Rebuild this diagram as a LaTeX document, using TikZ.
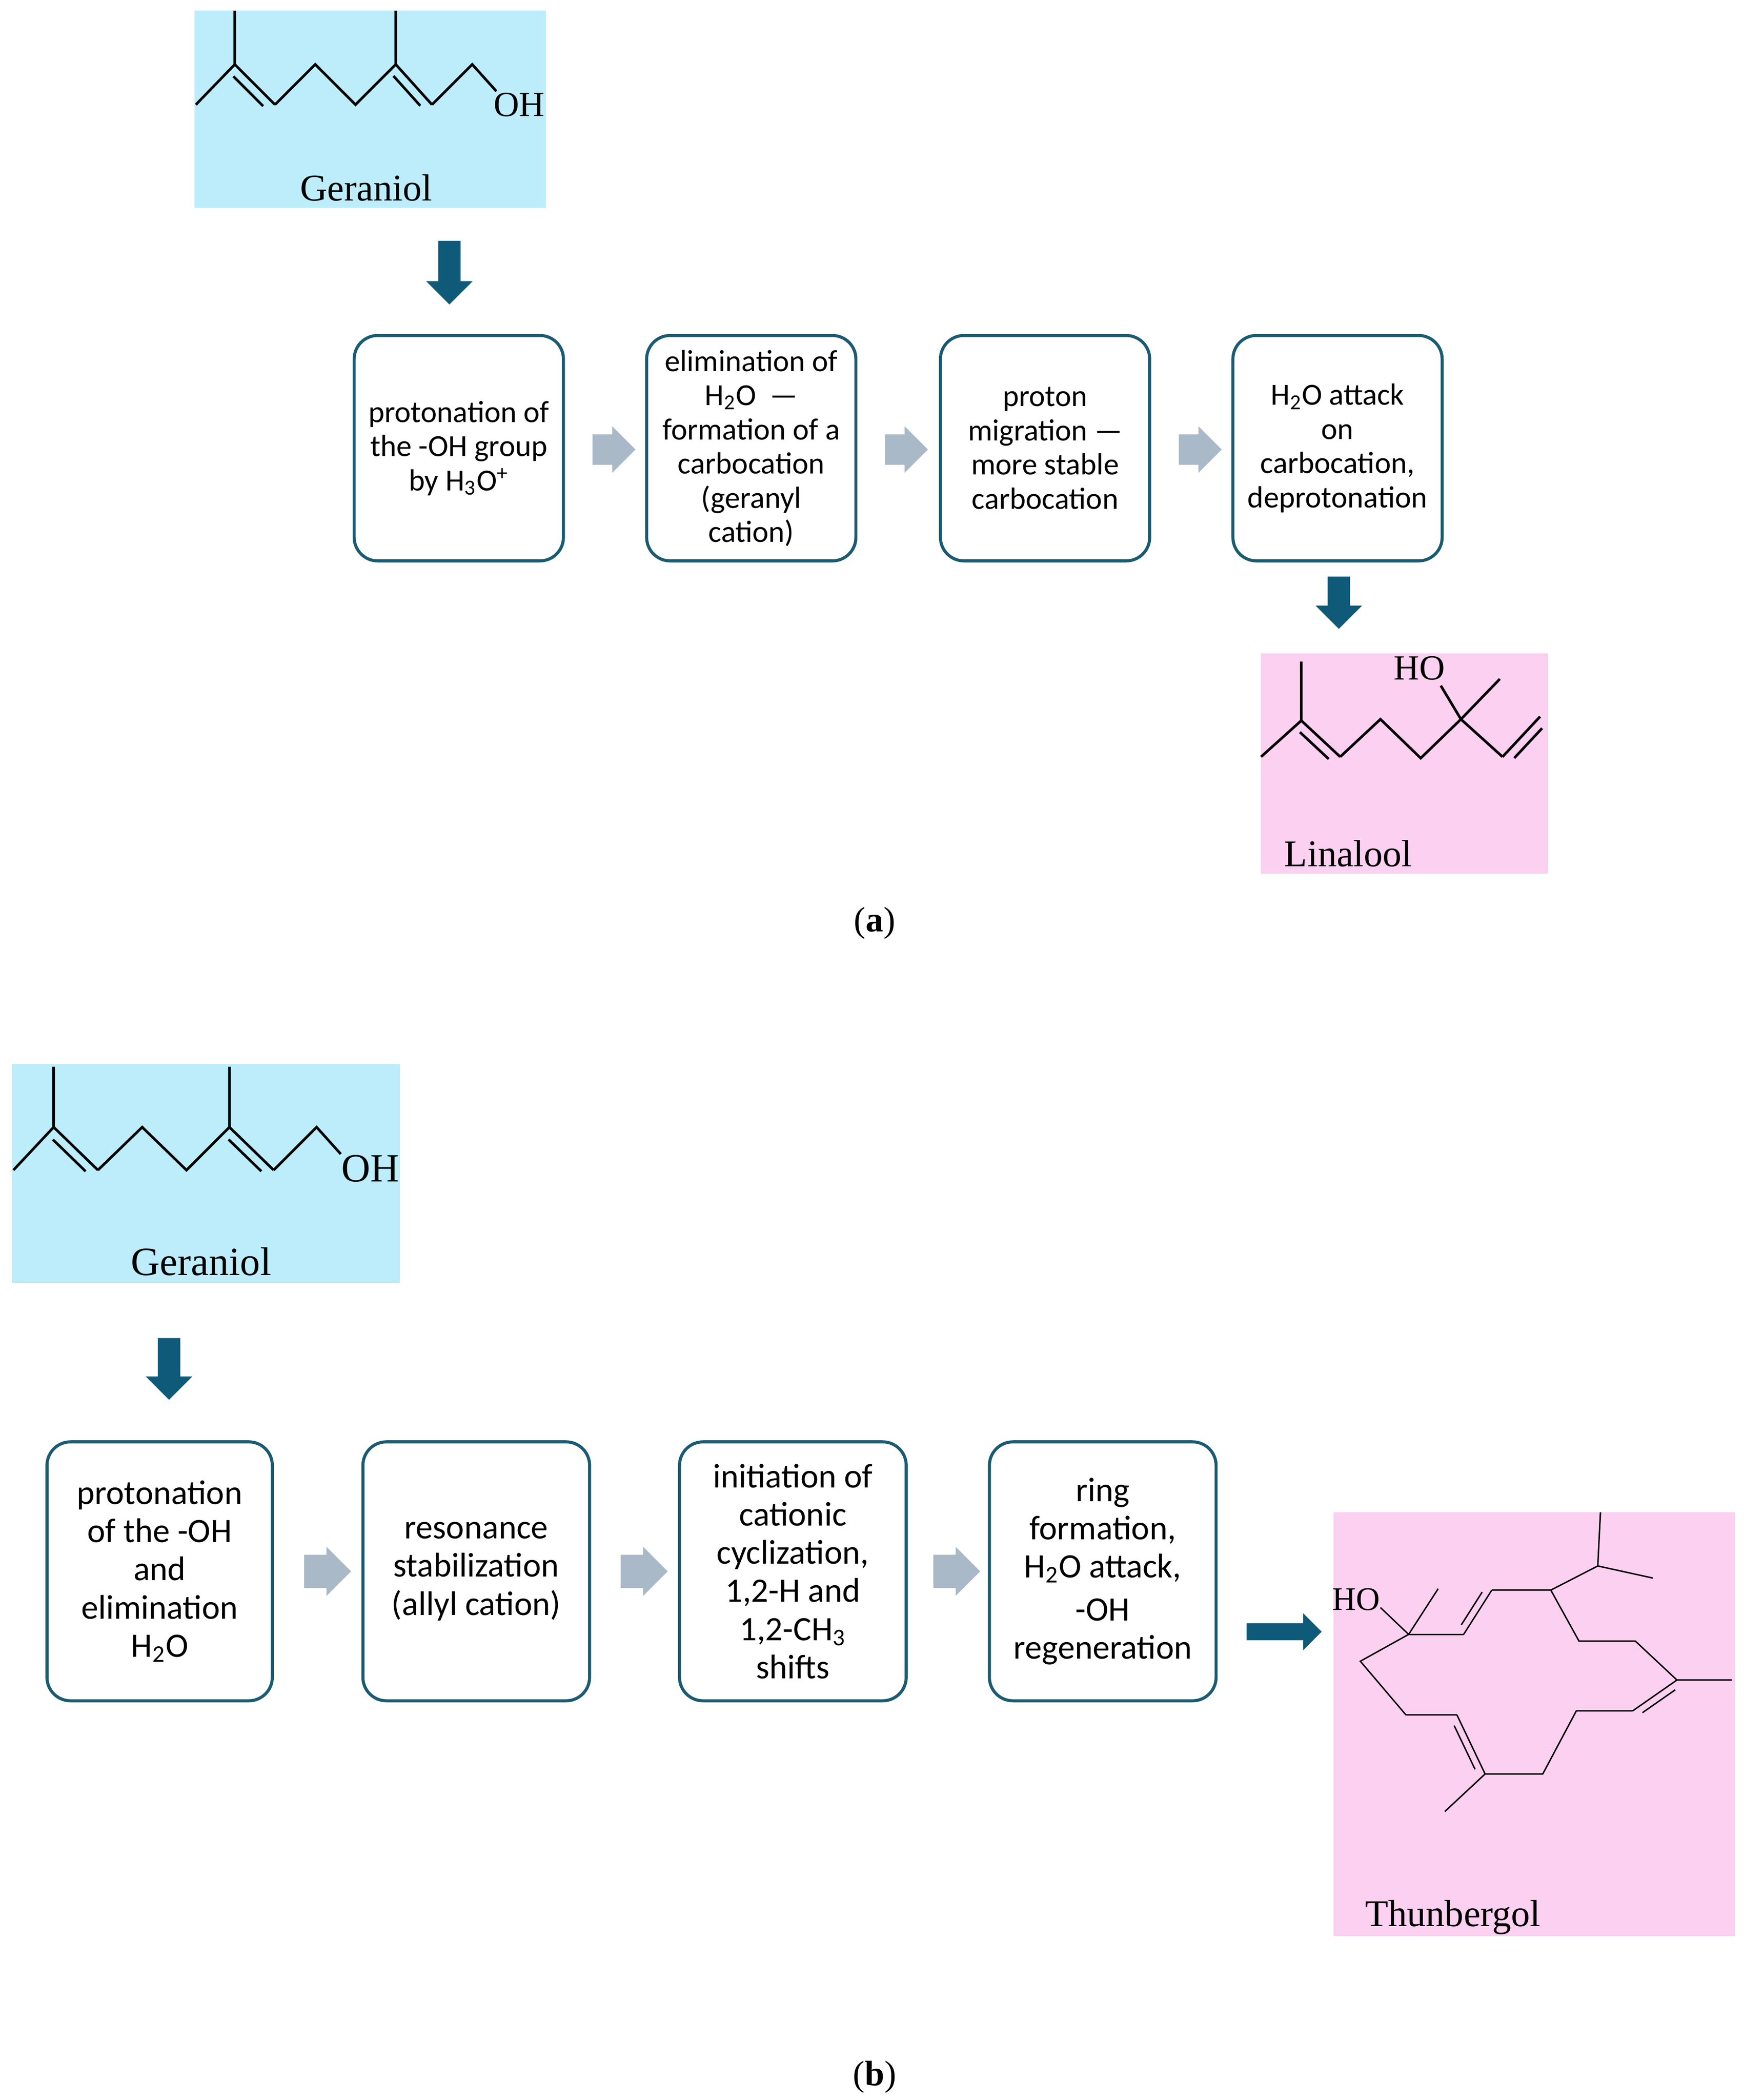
\documentclass[tikz,border=0pt]{standalone}
\usepackage{fontspec}
\setmainfont{Liberation Serif}
\newfontfamily\boxfont{Carlito}
\usetikzlibrary{calc,shapes.arrows}

\definecolor{stepblue}{HTML}{1B5B72}
\definecolor{arrowblue}{HTML}{0F5A78}
\definecolor{arrowgray}{HTML}{AAB9C8}
\definecolor{molblue}{HTML}{BDEDFB}
\definecolor{molpink}{HTML}{FBD0F0}

\tikzset{stage/.style={draw=stepblue,line width=1.3pt,rounded corners=0.35cm,align=center,font=\boxfont\fontsize{13}{14.5}\selectfont,inner sep=0pt},
stage b/.style={stage,font=\boxfont\fontsize{14.5}{16.2}\selectfont},
next/.style={single arrow,fill=arrowgray,draw=none,minimum height=0.64cm,inner xsep=0pt,inner ysep=0.22cm,single arrow head extend=0.12cm},
down/.style={single arrow,fill=arrowblue,draw=none,minimum height=1.0cm,inner xsep=0pt,inner ysep=0.16cm,single arrow head extend=0.18cm,rotate=-90},
bond/.style={line width=1.1pt,line join=miter},
thin bond/.style={line width=0.6pt},
molname/.style={font=\fontsize{16}{16}\selectfont},
atom/.style={font=\fontsize{15}{15}\selectfont,inner sep=0pt},
caption/.style={font=\fontsize{15}{15}\selectfont}}

% double bond: main line plus an inner line
\newcommand\dbl[4][bond]{\draw[#1] (#2) -- (#3);
\draw[#1] ($(#2)!0.13!(#3)!#4!90:(#3)$) -- ($(#3)!0.13!(#2)!#4!-90:(#2)$);}

\begin{document}
\begin{tikzpicture}[x=0.02cm,y=-0.02cm]
\useasboundingbox (0,0) rectangle (1300,1565);

%% (a) geraniol
\fill[molblue] (145,8) rectangle (407,155);
\coordinate (ga1) at (146,78);
\coordinate (ga2) at (175,48);
\coordinate (ga3) at (175,8);
\coordinate (ga4) at (205,78);
\coordinate (ga5) at (235,48);
\coordinate (ga6) at (265,78);
\coordinate (ga7) at (295,48);
\coordinate (ga8) at (295,8);
\coordinate (ga9) at (322,78);
\coordinate (ga10) at (352,48);
\coordinate (ga11) at (370,68);
\draw[bond] (ga1) -- (ga2) -- (ga3);
\dbl{ga2}{ga4}{-4pt}
\draw[bond] (ga4) -- (ga5) -- (ga6) -- (ga7) -- (ga8);
\dbl{ga7}{ga9}{-4pt}
\draw[bond] (ga9) -- (ga10) -- (ga11);
\node[atom] (gaOH) at (387,78) {OH};
\node[molname] (gaName) at (273,140) {Geraniol};

%% (a) steps
\node[down,minimum height=0.95cm] (da1) at (335,199) {};
\node[stage,minimum width=3.12cm,minimum height=3.36cm] (sa1) at (342,334) {protonation of\\the -OH group\\by H\textsubscript{3}O\textsuperscript{+}};
\node[stage,minimum width=3.12cm,minimum height=3.36cm] (sa2) at (560,334) {elimination of\\H\textsubscript{2}O~~—\\formation of a\\carbocation\\(geranyl\\cation)};
\node[stage,minimum width=3.12cm,minimum height=3.36cm] (sa3) at (779,334) {proton\\migration —\\more stable\\carbocation};
\node[stage,minimum width=3.12cm,minimum height=3.36cm] (sa4) at (997,334) {H\textsubscript{2}O attack\\on\\carbocation,\\deprotonation};
\node[next] (na1) at (452,335) {};
\node[next] (na2) at (670,335) {};
\node[next] (na3) at (889,335) {};
\node[down,minimum height=0.78cm] (da2) at (998,445) {};

%% (a) linalool
\fill[molpink] (940,487) rectangle (1154,651);
\coordinate (la1) at (940,564);
\coordinate (la2) at (970,537);
\coordinate (la3) at (970,493);
\coordinate (la4) at (999,564);
\coordinate (la5) at (1029,536);
\coordinate (la6) at (1059,565);
\coordinate (la7) at (1089,536);
\coordinate (la8) at (1118,506);
\coordinate (la9) at (1074,511);
\coordinate (la10) at (1120,564);
\coordinate (la11) at (1148,534);
\draw[bond] (la1) -- (la2) -- (la3);
\dbl{la2}{la4}{-4pt}
\draw[bond] (la4) -- (la5) -- (la6) -- (la7) -- (la8);
\draw[bond] (la7) -- (la9);
\draw[bond] (la7) -- (la10);
\dbl{la10}{la11}{-4pt}
\node[atom] (laHO) at (1058,498) {HO};
\node[molname] (laName) at (1005,636) {Linalool};

\node[caption] (capa) at (652,688) {(\textbf{a})};

%% (b) geraniol
\fill[molblue] (9,793) rectangle (298,956);
\coordinate (gb1) at (10,872);
\coordinate (gb2) at (40,840);
\coordinate (gb3) at (40,795);
\coordinate (gb4) at (73,872);
\coordinate (gb5) at (106,840);
\coordinate (gb6) at (139,872);
\coordinate (gb7) at (171,840);
\coordinate (gb8) at (171,795);
\coordinate (gb9) at (204,872);
\coordinate (gb10) at (236,840);
\coordinate (gb11) at (254,860);
\draw[bond] (gb1) -- (gb2) -- (gb3);
\dbl{gb2}{gb4}{-4pt}
\draw[bond] (gb4) -- (gb5) -- (gb6) -- (gb7) -- (gb8);
\dbl{gb7}{gb9}{-4pt}
\draw[bond] (gb9) -- (gb10) -- (gb11);
\node[atom,font=\fontsize{17}{17}\selectfont] (gbOH) at (276,871) {OH};
\node[molname,font=\fontsize{17}{17}\selectfont] (gbName) at (150,940) {Geraniol};

%% (b) steps
\node[down,minimum height=0.92cm] (db1) at (126,1016) {};
\node[stage b,minimum width=3.36cm,minimum height=3.86cm] (sb1) at (119,1171) {protonation\\of the -OH\\and\\elimination\\H\textsubscript{2}O};
\node[stage b,minimum width=3.38cm,minimum height=3.86cm] (sb2) at (355,1171) {resonance\\stabilization\\(allyl cation)};
\node[stage b,minimum width=3.38cm,minimum height=3.86cm] (sb3) at (591,1171) {initiation of\\cationic\\cyclization,\\1,2-H and\\1,2-CH\textsubscript{3}\\shifts};
\node[stage b,minimum width=3.38cm,minimum height=3.86cm] (sb4) at (822,1171) {ring\\formation,\\H\textsubscript{2}O attack,\\[2pt]-OH\\regeneration};
\node[next,minimum height=0.7cm,inner ysep=0.24cm] (nb1) at (238,1171) {};
\node[next,minimum height=0.7cm,inner ysep=0.24cm] (nb2) at (474,1171) {};
\node[next,minimum height=0.7cm,inner ysep=0.24cm] (nb3) at (707,1171) {};
\node[down,rotate=90,minimum height=1.12cm,inner ysep=0.12cm,single arrow head extend=0.15cm] (db2) at (954,1216) {};

%% (b) thunbergol
\fill[molpink] (994,1127) rectangle (1293,1443);
\coordinate (t1) at (1050,1218);
\coordinate (t2) at (1072,1184);
\coordinate (t3) at (1029,1198);
\coordinate (t4) at (1091,1218);
\coordinate (t5) at (1112,1185);
\coordinate (t6) at (1156,1185);
\coordinate (t7) at (1191,1167);
\coordinate (t8) at (1193,1127);
\coordinate (t9) at (1232,1176);
\coordinate (t10) at (1177,1223);
\coordinate (t11) at (1219,1223);
\coordinate (t12) at (1250,1252);
\coordinate (t13) at (1291,1252);
\coordinate (t14) at (1217,1275);
\coordinate (t15) at (1175,1275);
\coordinate (t16) at (1150,1322);
\coordinate (t17) at (1107,1322);
\coordinate (t18) at (1077,1350);
\coordinate (t19) at (1086,1278);
\coordinate (t20) at (1048,1278);
\coordinate (t21) at (1014,1238);
\draw[thin bond] (t3) -- (t1) -- (t2);
\draw[thin bond] (t1) -- (t4);
\dbl[thin bond]{t4}{t5}{3pt}
\draw[thin bond] (t5) -- (t6) -- (t7) -- (t8);
\draw[thin bond] (t7) -- (t9);
\draw[thin bond] (t6) -- (t10) -- (t11) -- (t12) -- (t13);
\dbl[thin bond]{t12}{t14}{3pt}
\draw[thin bond] (t14) -- (t15) -- (t16) -- (t17) -- (t18);
\dbl[thin bond]{t17}{t19}{3pt}
\draw[thin bond] (t19) -- (t20) -- (t21) -- (t1);
\node[atom,font=\fontsize{14}{14}\selectfont] (tHO) at (1011,1192) {HO};
\node[molname] (tName) at (1083,1429) {Thunbergol};

\node[caption] (capb) at (652,1548) {(\textbf{b})};
\end{tikzpicture}
\end{document}
